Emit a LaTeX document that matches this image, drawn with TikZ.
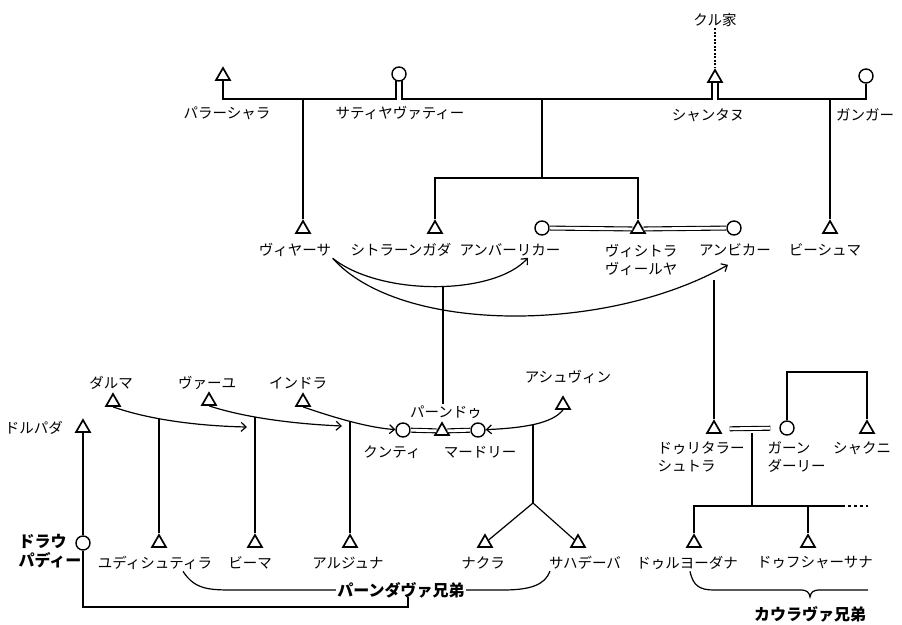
\documentclass[tikz,border=0pt]{standalone}
\usepackage{fontspec}
\usepackage{tikz}
\usetikzlibrary{shapes.geometric,calc,arrows.meta}
\newfontfamily\jp{Noto Sans CJK JP}

\begin{document}
\begin{tikzpicture}[x=1pt,y=-1pt,line width=1.2pt,>={Straight Barb[length=5pt,width=9pt]},
    every node/.style={font=\jp\fontsize{14.5}{18}\selectfont,inner sep=1pt}]
  \tikzstyle{ml}=[regular polygon,regular polygon sides=3,draw,line width=1.7pt,
                  minimum size=16pt,inner sep=0pt];
  \tikzstyle{fm}=[circle,draw,line width=1.4pt,minimum size=14pt,inner sep=0pt];
  \tikzstyle{mar}=[double,double distance=2.8pt,line width=1.1pt];
  \tikzstyle{gr}=[font=\jp\bfseries\fontsize{16}{19}\selectfont];
  \useasboundingbox (0,0) rectangle (902,624);

  % first generation
  \node (kuru) at (715,20) {クル家};
  \node[ml] (parashara) at (223,76) {};
  \node[fm] (satyavati) at (399,74) {};
  \node[ml] (shantanu) at (715,78) {};
  \node[fm] (ganga) at (866,76) {};
  \node (lparashara) at (227,113) {パラーシャラ};
  \node (lsatyavati) at (400,113) {サティヤヴァティー};
  \node (lshantanu) at (708,115) {シャンタヌ};
  \node (lganga) at (865,115) {ガンガー};
  \coordinate (bar) at (0,99);

  % second generation
  \node[ml] (vyasa) at (303,229) {};
  \node[ml] (chitrangada) at (435,229) {};
  \node[fm] (ambalika) at (542,228) {};
  \node[ml] (vichitra) at (638,229) {};
  \node[fm] (ambika) at (734,228) {};
  \node[ml] (bhishma) at (830,229) {};
  \node (lvyasa) at (295,250) {ヴィヤーサ};
  \node (lchitrangada) at (401,250) {シトラーンガダ};
  \node (lambalika) at (510,250) {アンバーリカー};
  \node[align=center] (lvichitra) at (641,260) {ヴィシトラ\\ヴィールヤ};
  \node (lambika) at (735,250) {アンビカー};
  \node (lbhishma) at (825,250) {ビーシュマ};
  \coordinate (bro) at (542,178);

  % third generation
  \node[ml] (dharma) at (113,402) {};
  \node[ml] (vayu) at (209,401) {};
  \node[ml] (indra) at (303,402) {};
  \node[ml] (drupada) at (83,428) {};
  \node[fm] (kunti) at (403,430) {};
  \node[ml] (pandu) at (442,431) {};
  \node[fm] (madri) at (478,430) {};
  \node[ml] (ashvin) at (563,405) {};
  \node[ml] (dhrita) at (714,429) {};
  \node[fm] (gandhari) at (787,428) {};
  \node[ml] (shakuni) at (867,429) {};
  \node (ldharma) at (111,383) {ダルマ};
  \node (lvayu) at (207,383) {ヴァーユ};
  \node (lindra) at (298,383) {インドラ};
  \node (ldrupada) at (34,428) {ドルパダ};
  \node (lkunti) at (392,452) {クンティ};
  \node (lpandu) at (446,412) {パーンドゥ};
  \node (lmadri) at (480,452) {マードリー};
  \node (lashvin) at (568,377) {アシュヴィン};
  \node[align=left,anchor=west] (ldhrita) at (656,457) {ドゥリタラー\\シュトラ};
  \node[align=left,anchor=west] (lgandhari) at (766,457) {ガーン\\ダーリー};
  \node (lshakuni) at (862,448) {シャクニ};

  % fourth generation
  \node[fm] (draupadi) at (83,543) {};
  \node[ml] (yudhi) at (159,543) {};
  \node[ml] (bhima) at (255,543) {};
  \node[ml] (arjuna) at (350,543) {};
  \node[ml] (nakula) at (485,543) {};
  \node[ml] (sahadeva) at (578,543) {};
  \node[ml] (duryo) at (694,543) {};
  \node[ml] (duhsha) at (808,543) {};
  \node[gr,align=left,anchor=west] (ldraupadi) at (17,551) {ドラウ\\パディー};
  \node (lyudhi) at (155,563) {ユディシュティラ};
  \node (lbhima) at (250,563) {ビーマ};
  \node (larjuna) at (348,563) {アルジュナ};
  \node (lnakula) at (483,563) {ナクラ};
  \node (lsahadeva) at (585,563) {サハデーバ};
  \node (lduryo) at (687,563) {ドゥルヨーダナ};
  \node (lduhsha) at (815,563) {ドゥフシャーサナ};
  \node[gr] (pandavas) at (401,590) {パーンダヴァ兄弟};
  \node[gr] (kauravas) at (810,614) {カウラヴァ兄弟};

  % top bar
  \draw[dash pattern=on 2pt off 1.5pt] (kuru) -- (shantanu);
  \draw (parashara) |- ($(satyavati.south |- bar)+(-3,0)$) -- ($(satyavati.south)+(-3,-1)$);
  \draw ($(satyavati.south)+(3,-1)$) -- ($(satyavati.south |- bar)+(3,0)$)
        -- ($(shantanu.south |- bar)+(-3,0)$) -- ($(shantanu.south)+(-3,0)$);
  \draw ($(shantanu.south)+(3,0)$) -- ($(shantanu.south |- bar)+(3,0)$) -| (ganga);
  \draw (vyasa) -- (vyasa |- bar);
  \draw (bhishma) -- (bhishma |- bar);
  \draw (bro |- bar) -- (bro);
  \draw (chitrangada) |- (bro) -| (vichitra);
  \draw[mar] (ambalika) -- (vichitra);
  \draw[mar] (vichitra) -- (ambika);

  % niyoga of vyasa
  \draw[->] (lvyasa.south east) .. controls (380,296) and (493,296) .. ([xshift=18pt]lambalika.south);
  \draw[->] (lvyasa.south east) .. controls (400,334) and (606,334) .. ([xshift=-7pt,yshift=-7pt]lambika.south);
  \coordinate (ppar) at (443,286);
  \coordinate (dpar) at (714,280);
  \draw (ppar) -- (ppar |- lpandu.north);
  \draw (dpar) -- (dhrita);

  % pandu and the gods
  \draw[mar] (kunti) -- (pandu);
  \draw[mar] (pandu) -- (madri);
  \coordinate (ta) at (247,427);
  \coordinate (tb) at (342,426);
  \draw[->] (dharma.south) .. controls (150,420) and (200,426) .. (ta);
  \draw[->] (vayu.south) .. controls (246,418) and (296,424) .. (tb);
  \draw[->] (indra.south) .. controls (335,418) and (370,428) .. (kunti);
  \draw[->] (ashvin.south) .. controls (552,424) and (522,428) .. (madri);
  \coordinate (ya) at (159,418);
  \coordinate (yb) at (255,417);
  \coordinate (yc) at (350,421);
  \draw (ya) -- (yudhi);
  \draw (yb) -- (bhima);
  \draw (yc) -- (arjuna);
  \coordinate (ns) at (533,424);
  \coordinate (nsj) at (533,503);
  \draw (ns) -- (nsj);
  \draw (nsj) -- (nakula);
  \draw (nsj) -- (sahadeva);

  % draupadi
  \coordinate (pb) at (408,597);
  \draw (drupada) -- (draupadi);
  \draw (draupadi) -- ++(0,64) -| (pb);
  \draw ([xshift=28pt]lyudhi.south) .. controls (195,590) and (210,590) .. (235,590) -- (pandavas.west);
  \draw (pandavas.east) -- (503,590) .. controls (530,590) and (545,585) .. ([xshift=-35pt]lsahadeva.south);

  % kauravas
  \coordinate (dgm) at (752,433);
  \coordinate (kb) at (752,506);
  \coordinate (kp) at (810,597);
  \draw[mar,shorten <=10pt,shorten >=9pt] (dhrita) -- (gandhari);
  \draw (gandhari) -- ++(0,-56) -| (shakuni);
  \draw (dgm) -- (kb);
  \draw (duryo) |- (kb) -- ++(90,0) coordinate (ke);
  \draw[dash pattern=on 3pt off 3pt] (ke) -- ++(26,0);
  \draw (duhsha) -- (duhsha |- kb);
  \draw ([xshift=3pt]lduryo.south) .. controls (693,586) and (700,590) .. (714,590) -- (800,590)
        .. controls (807,590) and (809,592) .. (kp) .. controls (811,592) and (813,590) .. (820,590) -- (868,590);
\end{tikzpicture}
\end{document}
